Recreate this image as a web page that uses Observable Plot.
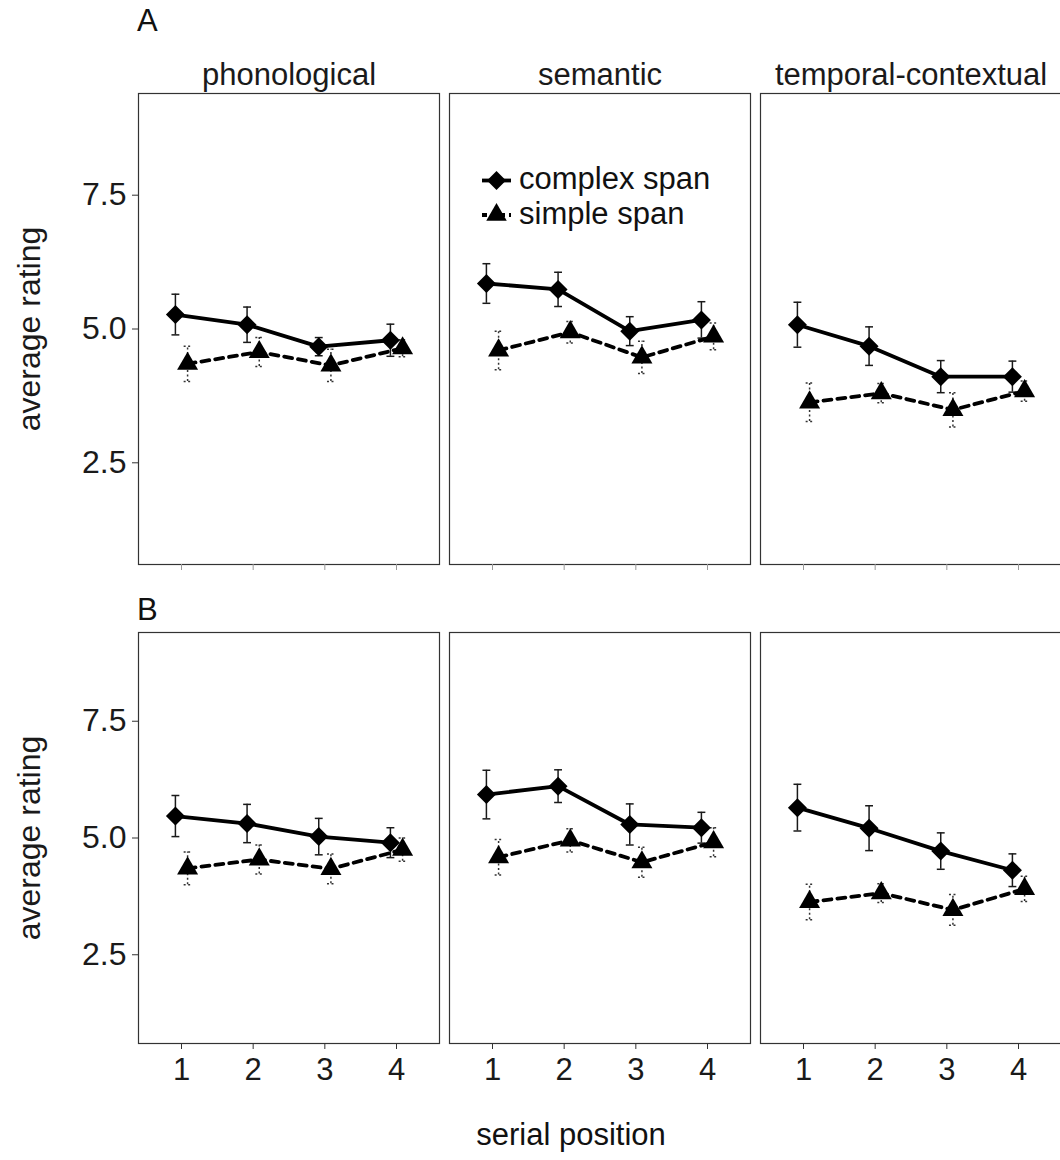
<!DOCTYPE html>
<html>
<head>
<meta charset="utf-8">
<script src="https://cdn.jsdelivr.net/npm/d3@7"></script>
<script src="https://cdn.jsdelivr.net/npm/@observablehq/plot@0.6"></script>
<style>
  html, body { margin: 0; padding: 0; background: #fff; overflow: hidden; }
  #page { position: relative; width: 1060px; height: 1160px; overflow: hidden; background: #fff;
          font-family: "Liberation Sans", Arial, sans-serif; color: #111; }
  .row { position: absolute; left: 0; }
  .lab { position: absolute; font-size: 31px; line-height: 1; white-space: nowrap; }
</style>
</head>
<body>
<div id="page">
  <div class="row" id="rowA" style="top:0px"></div>
  <div class="row" id="rowB" style="top:590px"></div>
  <div class="lab" style="left:137px; top:5px;">A</div>
  <div class="lab" style="left:137px; top:594px;">B</div>
  <div class="lab" style="left:0px; width:1142px; text-align:center; top:1119px;">serial position</div>
  <svg style="position:absolute; left:478px; top:160px; overflow:visible" width="40" height="70">
    <line x1="4" x2="33" y1="20.5" y2="20.5" stroke="#000" stroke-width="3.8"></line>
    <path d="M18.5,11L28,20.5L18.5,30L9,20.5Z" fill="#000"></path>
    <line x1="4" x2="33" y1="55" y2="55" stroke="#000" stroke-width="3.8" stroke-dasharray="5,4"></line>
    <path d="M18.5,43L28.75,60.8L8.25,60.8Z" fill="#000"></path>
  </svg>
  <div class="lab" style="left:519px; top:163px;">complex span</div>
  <div class="lab" style="left:519px; top:198px;">simple span</div>
</div>
<script>
// ---------------- data ----------------
const conditions = ["phonological", "semantic", "temporal-contextual"];
const positions = [1, 2, 3, 4];
const yTicks = [2.5, 5.0, 7.5];

// Panel A  (rows = conditions, columns = serial position 1..4)
const complexMeanA = [[5.27, 5.08, 4.67, 4.79], [5.85, 5.74, 4.96, 5.17], [5.08, 4.68, 4.11, 4.11]];
const complexSeA   = [[0.38, 0.33, 0.17, 0.30], [0.37, 0.32, 0.27, 0.34], [0.42, 0.36, 0.30, 0.29]];
const simpleMeanA  = [[4.35, 4.57, 4.32, 4.64], [4.60, 4.94, 4.47, 4.86], [3.63, 3.80, 3.49, 3.84]];
const simpleSeA    = [[0.33, 0.27, 0.30, 0.16], [0.36, 0.20, 0.30, 0.25], [0.36, 0.18, 0.32, 0.19]];

// Panel B
const complexMeanB = [[5.47, 5.31, 5.03, 4.90], [5.93, 6.11, 5.29, 5.22], [5.65, 5.21, 4.72, 4.31]];
const complexSeB   = [[0.44, 0.41, 0.39, 0.32], [0.52, 0.35, 0.44, 0.33], [0.50, 0.48, 0.39, 0.35]];
const simpleMeanB  = [[4.35, 4.54, 4.34, 4.75], [4.59, 4.95, 4.48, 4.91], [3.63, 3.82, 3.46, 3.91]];
const simpleSeB    = [[0.35, 0.31, 0.32, 0.25], [0.38, 0.25, 0.32, 0.31], [0.38, 0.20, 0.33, 0.27]];

// ---------------- settings ----------------
const X_DOMAIN = [0.4, 4.6];
const Y_DOMAIN = [0.6, 9.4];
const DODGE = 0.085;
const CAP = 0.055;
const FONT = '"Liberation Sans", Arial, sans-serif';

const symbolDiamond = {
  draw(context, size) {
    const r = Math.sqrt(size / Math.PI);
    context.moveTo(0, -r); context.lineTo(r, 0); context.lineTo(0, r); context.lineTo(-r, 0); context.closePath();
  }
};

function table(means, ses, span, offset) {
  return conditions.flatMap((c, i) => positions.map((p, j) => ({
    condition: c, position: p, span, x: p + offset, mean: means[i][j], se: ses[i][j]
  })));
}

function errorMarks(data, dashed) {
  const o = {fx: "condition", stroke: dashed ? "#333" : "#1a1a1a", strokeWidth: 1.5};
  if (dashed) o.strokeDasharray = "2,2.5";
  return [
    Plot.ruleX(data, {...o, x: "x", y1: d => d.mean - d.se, y2: d => d.mean + d.se}),
    Plot.link(data, {...o, x1: d => d.x - CAP, x2: d => d.x + CAP, y1: d => d.mean + d.se, y2: d => d.mean + d.se}),
    Plot.link(data, {...o, x1: d => d.x - CAP, x2: d => d.x + CAP, y1: d => d.mean - d.se, y2: d => d.mean - d.se})
  ];
}

function row({cm, cs, sm, ss, height, marginTop, marginBottom, top}) {
  const complex = table(cm, cs, "complex span", -DODGE);
  const simple = table(sm, ss, "simple span", DODGE);
  return Plot.plot({
    width: 1070, height, marginLeft: 137, marginRight: 7, marginTop, marginBottom,
    style: {fontFamily: FONT, fontSize: "31px", color: "#1a1a1a", background: "transparent", maxWidth: "none", overflow: "visible"},
    fx: {domain: conditions, paddingInner: 0.032, ...(top ? {} : {axis: null})},
    x: {domain: X_DOMAIN},
    y: {domain: Y_DOMAIN},
    marks: [
      Plot.frame({stroke: "#333", strokeWidth: 1.2}),
      top ? Plot.axisFx({anchor: "top", tickSize: 0, tickPadding: 9, label: null}) : null,
      Plot.axisX({ticks: positions, tickSize: 6, tickPadding: 8, label: null, stroke: top ? "#999" : "#333",
                  tickFormat: top ? () => "" : d => String(d)}),
      Plot.axisY({ticks: yTicks, tickSize: 6, tickPadding: 6, tickFormat: d3.format(".1f"), stroke: "#333",
                  label: "average rating", labelAnchor: "center", labelOffset: 121, labelArrow: "none", fontSize: 32}),
      ...errorMarks(complex, false),
      ...errorMarks(simple, true),
      Plot.line(complex, {x: "x", y: "mean", fx: "condition", stroke: "#000", strokeWidth: 3.8}),
      Plot.line(simple, {x: "x", y: "mean", fx: "condition", stroke: "#000", strokeWidth: 3.8, strokeDasharray: "8,6"}),
      Plot.dot(complex, {x: "x", y: "mean", fx: "condition", symbol: symbolDiamond, r: 9.5, fill: "#000", stroke: null}),
      Plot.dot(simple, {x: "x", y: "mean", fx: "condition", symbol: "triangle", r: 7.8, fill: "#000", stroke: null})
    ]
  });
}

document.getElementById("rowA").append(row({
  cm: complexMeanA, cs: complexSeA, sm: simpleMeanA, ss: simpleSeA,
  height: 590, marginTop: 93, marginBottom: 26, top: true
}));
document.getElementById("rowB").append(row({
  cm: complexMeanB, cs: complexSeB, sm: simpleMeanB, ss: simpleSeB,
  height: 570, marginTop: 42, marginBottom: 117, top: false
}));
</script>
</body>
</html>
